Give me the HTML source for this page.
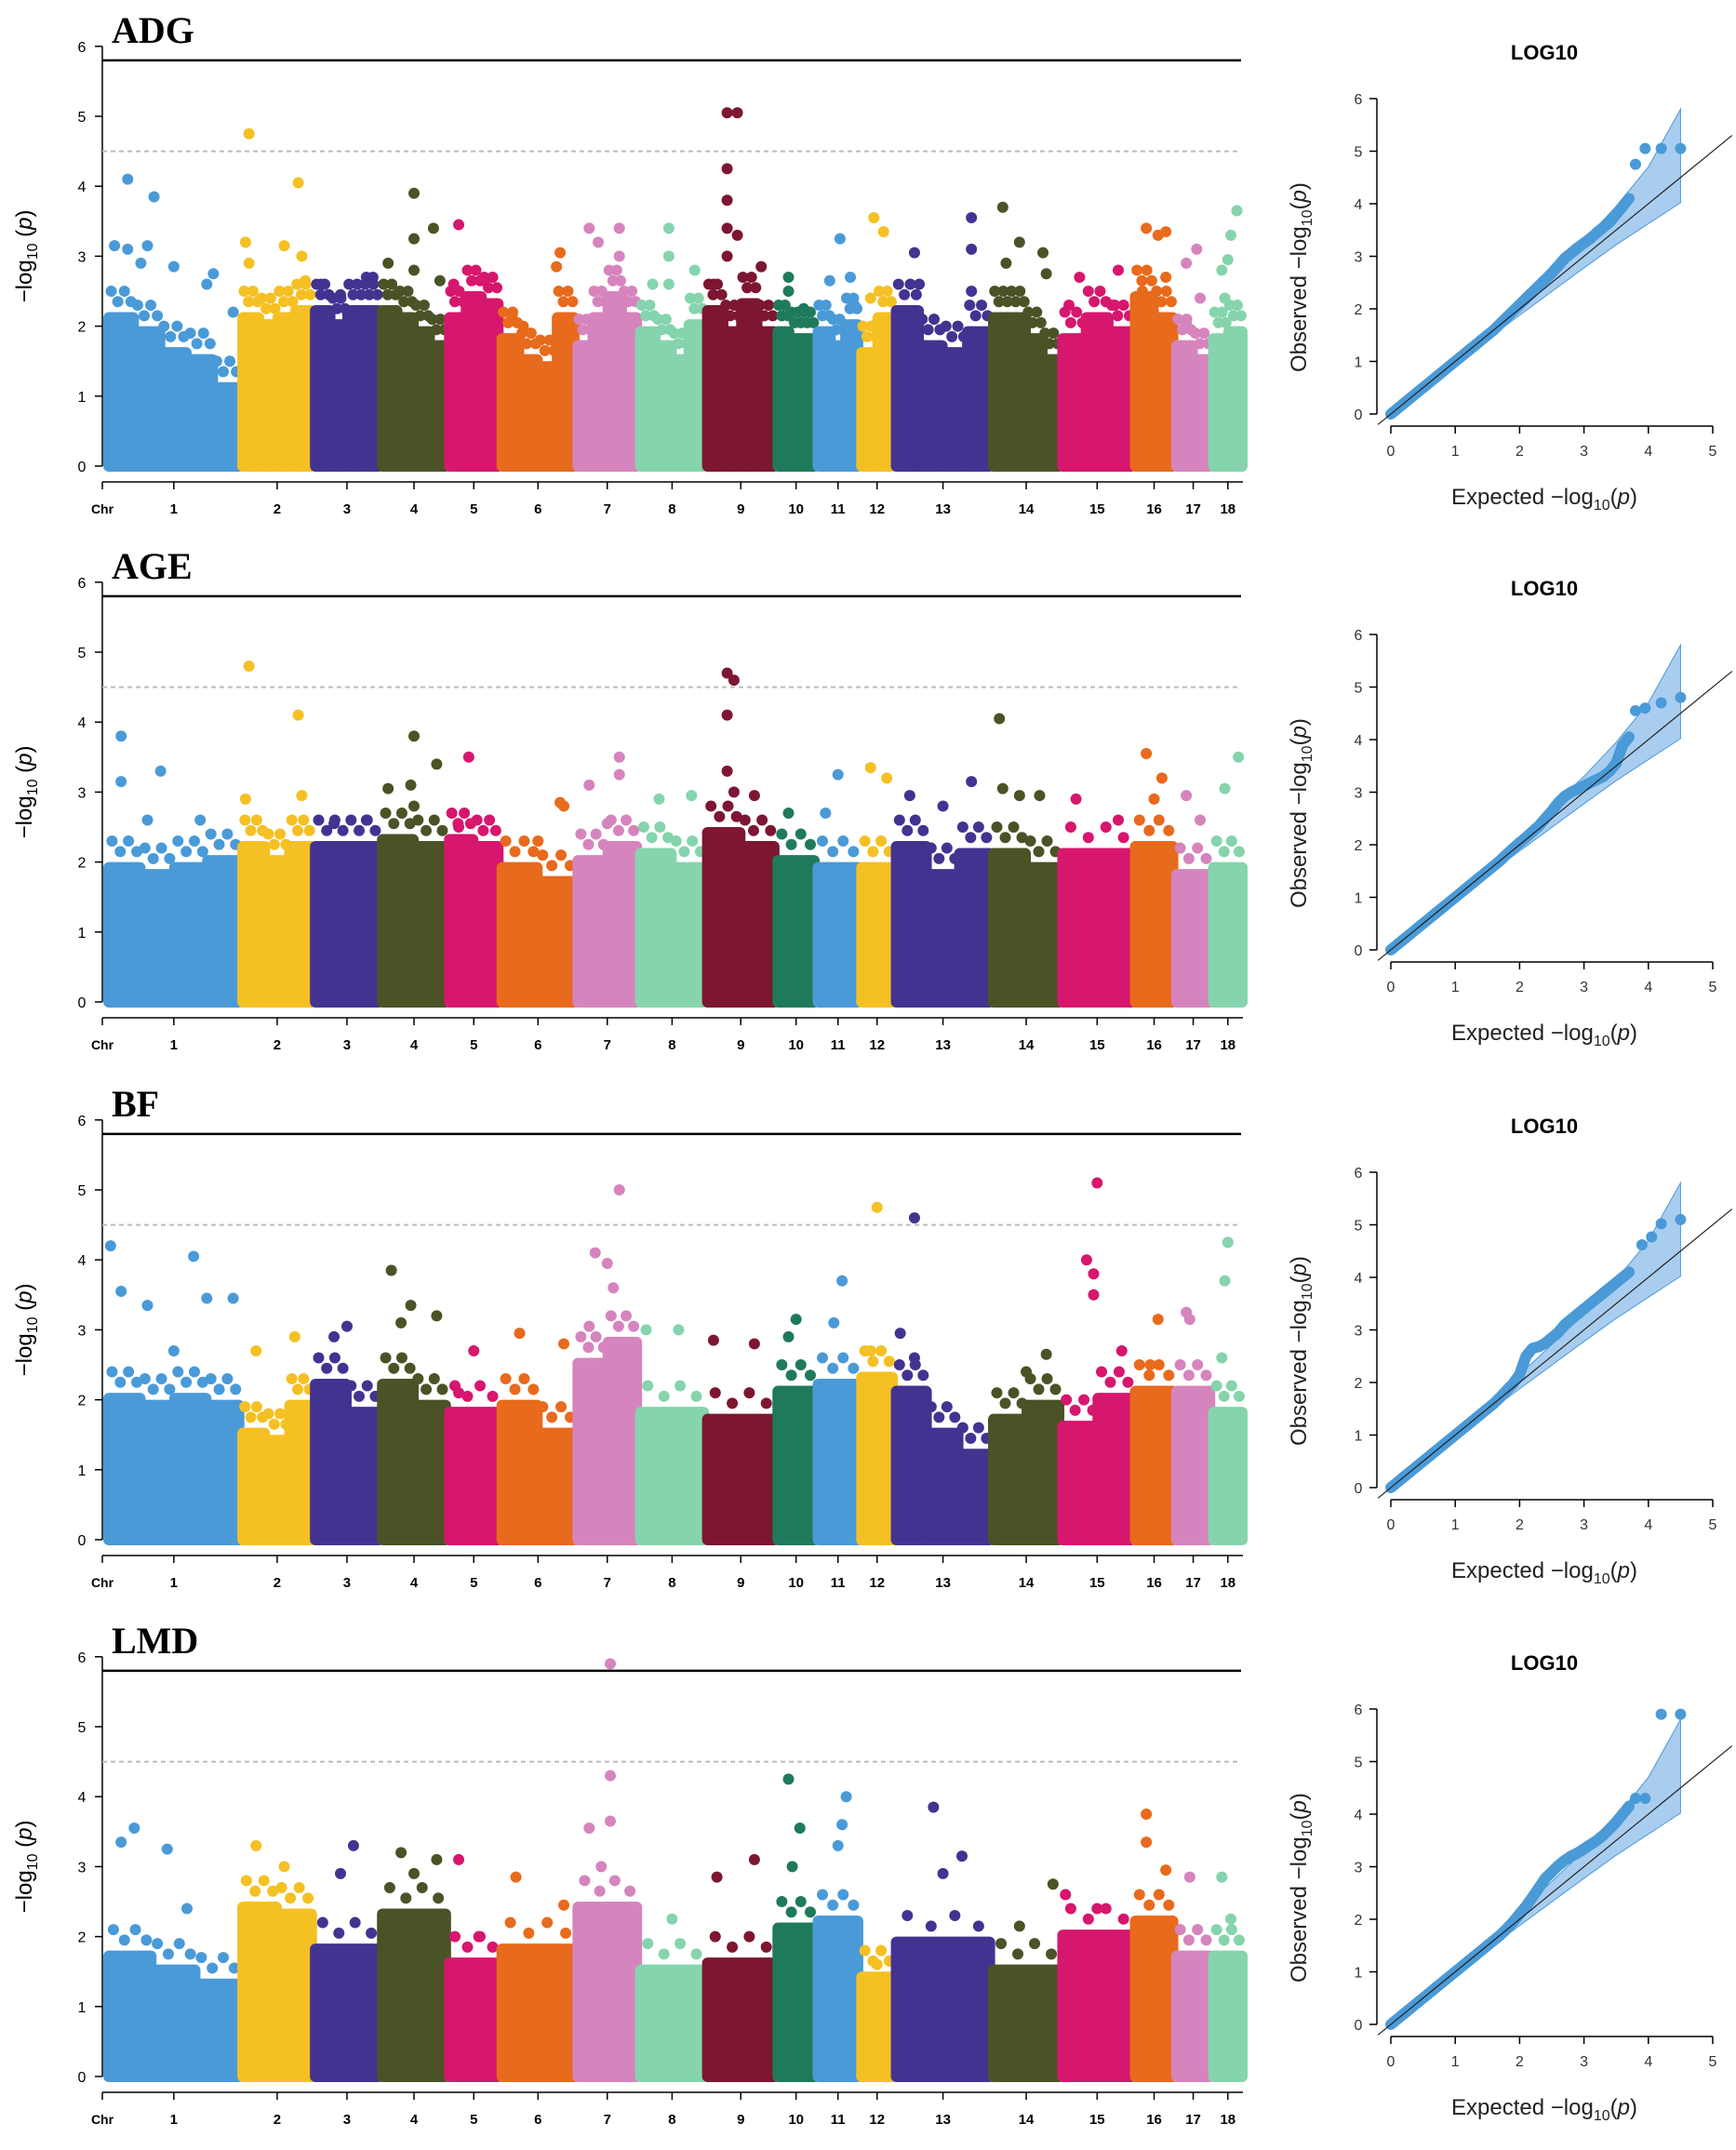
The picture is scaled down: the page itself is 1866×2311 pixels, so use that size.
<!DOCTYPE html>
<html><head><meta charset="utf-8">
<style>
html,body{margin:0;padding:0;background:#fff;}
svg{display:block;}
text{font-family:"Liberation Sans",sans-serif;}
</style></head>
<body>
<svg id="fig" width="1866" height="2311" viewBox="0 0 1866 2311" xmlns="http://www.w3.org/2000/svg"></svg>
<script>
const chrNames=["1","2","3","4","5","6","7","8","9","10","11","12","13","14","15","16","17","18"];
const chrLen=[118,63,58,58,45,66,54,58,61,34,37,29,85,60,63,35,31,27];
const chrColors=["#4a9ad8","#f5c023","#433391","#4a5326","#d7166e","#e86a1c","#d684bd","#85d4ad","#7d1631","#1f7a5c","#4a9ad8","#f5c023","#433391","#4a5326","#d7166e","#e86a1c","#d684bd","#85d4ad"];
const traits=["ADG","AGE","BF","LMD"];
const yTicks=[0,1,2,3,4,5,6];
const qqXTicks=[0,1,2,3,4,5];
const qqYTicks=[0,1,2,3,4,5,6];
const suggestiveLine=4.5;
const significantLine=5.8;
// dense body heights per chromosome (bins)
const denseADG=[[2.2,2.0,1.7,1.6,1.2],[2.2,2.1,2.2,2.3],[2.3,2.1,2.3,2.3],[2.3,2.2,2.0,1.8],[2.2,2.5,2.4],[1.9,1.6,1.5,2.2],[1.8,2.2,2.5,2.2],[2.0,1.8,1.6,2.1],[2.3,2.0,2.4,2.0],[2.0,1.9,1.9],[2.0,1.8,2.1],[1.7,2.2],[2.3,1.8,1.7,2.0],[2.2,2.2,1.9,1.6],[1.9,2.2,2.0],[2.5,2.2],[1.8,1.6],[1.9,2.0]];
const denseAGE=[[2.0,1.9,2.0,2.1],[2.3,2.1,2.3],[2.3,2.3],[2.4,2.3],[2.4,2.3],[2.0,1.8],[2.1,2.3],[2.2,2.0],[2.5,2.3],[2.1],[2.0],[2.0],[2.3,1.9,2.2],[2.2,2.0],[2.2],[2.3],[1.9],[2.0]];
const denseBF=[[2.1,2.0,2.1,2.0],[1.6,1.5,2.0],[2.3,1.9],[2.3,2.0],[1.9],[2.0,1.6],[2.6,2.9],[1.9],[1.8],[2.2],[2.3],[2.4],[2.2,1.6,1.3],[1.8,2.0],[1.7,2.1],[2.2],[2.2],[1.9]];
const denseLMD=[[1.8,1.6,1.4],[2.5,2.4],[1.9],[2.4],[1.7],[1.9],[2.5],[1.6],[1.7],[2.2],[2.3],[1.5],[2.0],[1.6],[2.1],[2.3],[1.8],[1.8]];
// outlier points: [chrIndex, fraction within chr, -log10 p]
const ptsADG=[[0,.15,4.1],[0,.35,3.85],[0,.05,3.15],[0,.15,3.1],[0,.25,2.9],[0,.3,3.15],[0,.5,2.85],[0,.75,2.6],[0,.8,2.75],[0,.95,2.2],[1,.1,4.75],[1,.8,4.05],[1,.05,3.2],[1,.6,3.15],[1,.85,3.0],[1,.1,2.9],[1,.9,2.65],[2,.1,2.6],[2,.8,2.7],[2,.9,2.7],[2,.4,2.45],[3,.5,3.9],[3,.5,3.25],[3,.8,3.4],[3,.1,2.9],[3,.5,2.8],[3,.9,2.65],[4,.2,3.45],[4,.1,2.6],[4,.7,2.65],[5,.8,3.05],[5,.75,2.85],[5,.15,2.15],[5,.3,2.0],[6,.2,3.4],[6,.35,3.2],[6,.7,3.4],[6,.7,3.0],[7,.45,3.4],[7,.45,3.0],[7,.2,2.6],[7,.45,2.6],[7,.85,2.8],[8,.3,5.05],[8,.45,5.05],[8,.3,4.25],[8,.3,3.8],[8,.3,3.4],[8,.45,3.3],[8,.3,3.0],[8,.8,2.85],[8,.1,2.6],[9,.3,2.7],[9,.3,2.5],[9,.7,2.25],[10,.3,2.65],[10,.8,2.7],[10,.55,3.25],[10,.9,2.3],[11,.4,3.55],[11,.7,3.35],[11,.3,2.4],[12,.2,3.05],[12,.8,3.55],[12,.8,3.1],[12,.8,2.5],[12,.25,2.6],[13,.15,3.7],[13,.4,3.2],[13,.75,3.05],[13,.8,2.75],[13,.2,2.9],[14,.25,2.7],[14,.8,2.8],[14,.1,2.3],[14,.75,2.3],[15,.3,3.4],[15,.6,3.3],[15,.8,3.35],[15,.8,2.7],[15,.2,2.5],[16,.6,3.1],[16,.3,2.9],[16,.3,2.05],[16,.7,2.4],[17,.8,3.65],[17,.6,3.3],[17,.5,2.95],[17,.3,2.8],[17,.4,2.4]];
const ptsAGE=[[0,.1,3.8],[0,.4,3.3],[0,.1,3.15],[0,.3,2.6],[0,.7,2.6],[1,.1,4.8],[1,.8,4.1],[1,.05,2.9],[1,.85,2.95],[2,.3,2.55],[2,.8,2.6],[3,.5,3.8],[3,.85,3.4],[3,.1,3.05],[3,.45,3.1],[3,.5,2.8],[4,.4,3.5],[4,.2,2.5],[5,.8,2.85],[5,.85,2.8],[5,.5,2.3],[6,.7,3.5],[6,.2,3.1],[6,.7,3.25],[6,.5,2.55],[7,.3,2.9],[7,.8,2.95],[8,.3,4.7],[8,.4,4.6],[8,.3,4.1],[8,.3,3.3],[8,.4,3.0],[8,.7,2.95],[9,.3,2.7],[10,.5,3.25],[10,.2,2.7],[11,.3,3.35],[11,.8,3.2],[12,.15,2.95],[12,.8,3.15],[12,.5,2.8],[13,.1,4.05],[13,.15,3.05],[13,.4,2.95],[13,.7,2.95],[14,.2,2.9],[14,.8,2.6],[15,.3,3.55],[15,.7,3.2],[15,.5,2.9],[16,.3,2.95],[16,.7,2.6],[17,.85,3.5],[17,.4,3.05]];
const ptsBF=[[0,.02,4.2],[0,.65,4.05],[0,.1,3.55],[0,.75,3.45],[0,.95,3.45],[0,.3,3.35],[0,.5,2.7],[1,.75,2.9],[1,.2,2.7],[2,.5,3.05],[2,.3,2.9],[3,.15,3.85],[3,.45,3.35],[3,.85,3.2],[3,.3,3.1],[4,.5,2.7],[4,.2,2.1],[5,.25,2.95],[5,.85,2.8],[6,.7,5.0],[6,.3,4.1],[6,.5,3.95],[6,.6,3.6],[6,.2,3.05],[7,.1,3.0],[7,.6,3.0],[8,.1,2.85],[8,.7,2.8],[9,.5,3.15],[9,.3,2.9],[10,.6,3.7],[10,.4,3.1],[11,.5,4.75],[11,.3,2.7],[12,.2,4.6],[12,.05,2.95],[12,.2,2.6],[13,.8,2.65],[13,.5,2.4],[14,.5,5.1],[14,.35,4.0],[14,.45,3.8],[14,.45,3.5],[14,.85,2.7],[15,.6,3.15],[15,.4,2.5],[16,.3,3.25],[16,.4,3.15],[17,.5,4.25],[17,.4,3.7],[17,.3,2.6]];
const ptsLMD=[[0,.2,3.55],[0,.1,3.35],[0,.45,3.25],[0,.6,2.4],[1,.2,3.3],[1,.6,3.0],[2,.6,3.3],[2,.4,2.9],[3,.3,3.2],[3,.85,3.1],[3,.5,2.9],[4,.2,3.1],[4,.6,2.0],[5,.2,2.85],[5,.85,2.45],[6,.55,5.9],[6,.55,4.3],[6,.55,3.65],[6,.2,3.55],[6,.4,3.0],[7,.5,2.25],[8,.15,2.85],[8,.7,3.1],[9,.3,4.25],[9,.6,3.55],[9,.4,3.0],[10,.7,4.0],[10,.6,3.6],[10,.5,3.3],[11,.5,1.6],[12,.4,3.85],[12,.7,3.15],[12,.5,2.9],[13,.9,2.75],[13,.4,2.15],[14,.05,2.6],[14,.5,2.4],[15,.3,3.75],[15,.3,3.35],[15,.8,2.95],[16,.4,2.85],[17,.3,2.85],[17,.6,2.25]];
// QQ data
const qqExp=[0,0.1,0.2,0.3,0.4,0.5,0.6,0.7,0.8,0.9,1.0,1.1,1.2,1.3,1.4,1.5,1.6,1.7,1.8,1.9,2.0,2.1,2.2,2.3,2.4,2.5,2.6,2.7,2.8,2.9,3.0,3.1,3.2,3.3,3.4,3.5,3.6,3.7];
const qqObsADG=[0,0.1,0.2,0.3,0.4,0.5,0.6,0.7,0.8,0.9,1.0,1.1,1.2,1.3,1.4,1.5,1.6,1.72,1.84,1.96,2.08,2.2,2.32,2.44,2.56,2.68,2.82,2.96,3.06,3.16,3.25,3.34,3.45,3.55,3.65,3.8,3.95,4.1];
const qqObsAGE=[0,0.1,0.2,0.3,0.4,0.5,0.6,0.7,0.8,0.9,1.0,1.1,1.2,1.3,1.4,1.5,1.6,1.7,1.82,1.93,2.04,2.14,2.25,2.36,2.5,2.64,2.8,2.92,3.0,3.06,3.12,3.18,3.24,3.3,3.4,3.55,3.9,4.05];
const qqObsBF=[0,0.1,0.2,0.3,0.4,0.5,0.6,0.7,0.8,0.9,1.0,1.1,1.2,1.3,1.4,1.5,1.6,1.72,1.85,1.98,2.15,2.5,2.65,2.68,2.75,2.85,2.95,3.1,3.2,3.3,3.4,3.5,3.6,3.7,3.8,3.9,4.0,4.1];
const qqObsLMD=[0,0.1,0.2,0.3,0.4,0.5,0.6,0.7,0.8,0.9,1.0,1.1,1.2,1.3,1.4,1.5,1.6,1.7,1.82,1.95,2.1,2.25,2.42,2.6,2.78,2.9,3.02,3.12,3.2,3.26,3.34,3.42,3.5,3.6,3.72,3.85,4.0,4.15];
const qqTopExpADG=[3.8,3.95,4.2,4.5];const qqTopObsADG=[4.75,5.05,5.05,5.05];
const qqTopExpAGE=[3.8,3.95,4.2,4.5];const qqTopObsAGE=[4.55,4.6,4.7,4.8];
const qqTopExpBF=[3.9,4.05,4.2,4.5];const qqTopObsBF=[4.62,4.77,5.02,5.1];
const qqTopExpLMD=[3.8,3.95,4.2,4.5];const qqTopObsLMD=[4.3,4.3,5.9,5.9];
const bandExp=[1.5,2.0,2.5,3.0,3.5,4.0,4.5];
const bandUpper=[1.6,2.15,2.72,3.3,3.95,4.7,5.8];
const bandLower=[1.42,1.88,2.33,2.78,3.22,3.62,4.02];

const svg=document.getElementById('fig');
const NS='http://www.w3.org/2000/svg';
function mk(tag,attrs,parent){const e=document.createElementNS(NS,tag);for(const k in attrs)e.setAttribute(k,attrs[k]);(parent||svg).appendChild(e);return e;}

const panelOffsets=[0,576,1154,1731];
const denseAll=[denseADG,denseAGE,denseBF,denseLMD];
const ptsAll=[ptsADG,ptsAGE,ptsBF,ptsLMD];
const qqObsAll=[qqObsADG,qqObsAGE,qqObsBF,qqObsLMD];
const qqTopE=[qqTopExpADG,qqTopExpAGE,qqTopExpBF,qqTopExpLMD];
const qqTopO=[qqTopObsADG,qqTopObsAGE,qqTopObsBF,qqTopObsLMD];
const GAP=2;
const totalLen=chrLen.reduce((a,b)=>a+b,0)+GAP*(chrLen.length-1);
const X0=116,X1=1336;
const chrStart=[];{let c=0;chrLen.forEach((l,i)=>{chrStart.push(c);c+=l+GAP;});}
function xScale(ci,f){return X0+(chrStart[ci]+f*chrLen[ci])/totalLen*(X1-X0);}
const R=6;

traits.forEach((t,pi)=>{
  const oy=panelOffsets[pi];
  const g=mk('g',{transform:`translate(0,${oy})`});
  
  
  const y=v=>501-v*75.2;
  const title=mk('text',{x:120,y:46,'font-size':40,'font-weight':'bold',style:'font-family:"Liberation Serif",serif'},g);
  title.textContent=t;
  
  
  // y axis
  const ya=mk('g',{},g);
  
  
  mk('line',{x1:110,x2:110,y1:y(0),y2:y(6),stroke:'#000','stroke-width':1.5},ya);
  yTicks.forEach(v=>{mk('line',{x1:102,x2:110,y1:y(v),y2:y(v),stroke:'#000','stroke-width':1.5},ya);
    const tx=mk('text',{x:88,y:y(v)+6,'font-size':16,'text-anchor':'middle'},ya);tx.textContent=v;});
  const yl=mk('text',{transform:`translate(34,${y(3)}) rotate(-90)`,'font-size':24,'text-anchor':'middle'},g);
  yl.innerHTML='−log<tspan font-size="16" dy="6">10</tspan><tspan dy="-6"> (</tspan><tspan font-style="italic">p</tspan>)';
  
  
  // threshold lines
  const sl=mk('line',{x1:110,x2:X1-2,y1:y(significantLine),y2:y(significantLine),stroke:'#000','stroke-width':2.5},g);
  
  
  const dl=mk('line',{x1:110,x2:X1-2,y1:y(suggestiveLine),y2:y(suggestiveLine),stroke:'#bbb','stroke-width':2,'stroke-dasharray':'5,4'},g);
  
  
  // dense bodies
  denseAll[pi].forEach((bins,ci)=>{
    const cg=mk('g',{fill:chrColors[ci]},g);
    
    
    const n=bins.length;
    bins.forEach((h,bi)=>{
      const xa=xScale(ci,bi/n)-R+1,xb=xScale(ci,(bi+1)/n)+R-1;
      mk('rect',{x:xa,y:y(h),width:xb-xa,height:y(-0.08)-y(h),rx:R},cg);
      // ragged fringe from bin height
      for(let k=0;k<4;k++){const f=(bi+(k+0.5)/4)/n;mk('circle',{cx:xScale(ci,f),cy:y(h+0.15*((k%2)?1:2)),r:R},cg);}
    });
  });
  // outlier points
  ptsAll[pi].forEach(p=>{
    const c=mk('circle',{cx:xScale(p[0],p[1]),cy:y(p[2]),r:R,fill:chrColors[p[0]]},g);
    
    
  });
  // x axis
  const xa=mk('g',{},g);
  
  
  mk('line',{x1:110,x2:X1,y1:518,y2:518,stroke:'#000','stroke-width':1.5},xa);
  mk('line',{x1:110,x2:110,y1:518,y2:526,stroke:'#000','stroke-width':1.5},xa);
  const chrT=mk('text',{x:110,y:552,'font-size':14,'font-weight':'bold','text-anchor':'middle'},xa);chrT.textContent='Chr';
  chrNames.forEach((nm,ci)=>{const cx=xScale(ci,0.5);
    mk('line',{x1:cx,x2:cx,y1:518,y2:526,stroke:'#000','stroke-width':1.5},xa);
    const tx=mk('text',{x:cx,y:552,'font-size':15,'font-weight':'bold','text-anchor':'middle'},xa);tx.textContent=nm;});

  // QQ plot
  const q=mk('g',{},g);
  
  
  const qx=v=>1495+v*69.2, qy=v=>445-v*56.5;
  const qt=mk('text',{x:1660,y:64,'font-size':22,'font-weight':'bold','text-anchor':'middle'},q);qt.textContent='LOG10';
  
  
  mk('line',{x1:1480,x2:1480,y1:qy(0),y2:qy(6),stroke:'#000','stroke-width':1.5},q);
  qqYTicks.forEach(v=>{mk('line',{x1:1472,x2:1480,y1:qy(v),y2:qy(v),stroke:'#000','stroke-width':1.5},q);
    const tx=mk('text',{x:1460,y:qy(v)+6,'font-size':16,'text-anchor':'middle',fill:'#333'},q);tx.textContent=v;});
  mk('line',{x1:qx(0),x2:qx(5),y1:458,y2:458,stroke:'#000','stroke-width':1.5},q);
  qqXTicks.forEach(v=>{mk('line',{x1:qx(v),x2:qx(v),y1:458,y2:466,stroke:'#000','stroke-width':1.5},q);
    const tx=mk('text',{x:qx(v),y:490,'font-size':16,'text-anchor':'middle',fill:'#333'},q);tx.textContent=v;});
  const band=bandExp.map((e,i)=>qx(e)+','+qy(bandUpper[i])).concat(bandExp.slice().reverse().map((e,i)=>qx(e)+','+qy(bandLower[bandLower.length-1-i]))).join(' ');
  const bp=mk('polygon',{points:band,fill:'#a9cdef',stroke:'#4a9ad8','stroke-width':1},q);
  
  
  const pts=qqExp.map((e,i)=>qx(e)+','+qy(qqObsAll[pi][i])).join(' ');
  const pl=mk('polyline',{points:pts,fill:'none',stroke:'#4a9ad8','stroke-width':12,'stroke-linecap':'round','stroke-linejoin':'round'},q);
  
  
  mk('line',{x1:qx(-0.2),y1:qy(-0.2),x2:qx(5.3),y2:qy(5.3),stroke:'#222','stroke-width':1.2},q);
  qqTopE[pi].forEach((e,i)=>{const c=mk('circle',{cx:qx(e),cy:qy(qqTopO[pi][i]),r:6,fill:'#4a9ad8'},q);
    
    });
  const xl=mk('text',{x:1660,y:542,'font-size':24,'text-anchor':'middle',fill:'#222'},q);
  xl.innerHTML='Expected  −log<tspan font-size="16" dy="6">10</tspan><tspan dy="-6">(</tspan><tspan font-style="italic">p</tspan>)';
  
  
  const ql=mk('text',{transform:`translate(1404,${qy(2.6)}) rotate(-90)`,'font-size':24,'text-anchor':'middle',fill:'#222'},q);
  ql.innerHTML='Observed  −log<tspan font-size="16" dy="6">10</tspan><tspan dy="-6">(</tspan><tspan font-style="italic">p</tspan>)';
  
  
});
</script>
</body></html>
